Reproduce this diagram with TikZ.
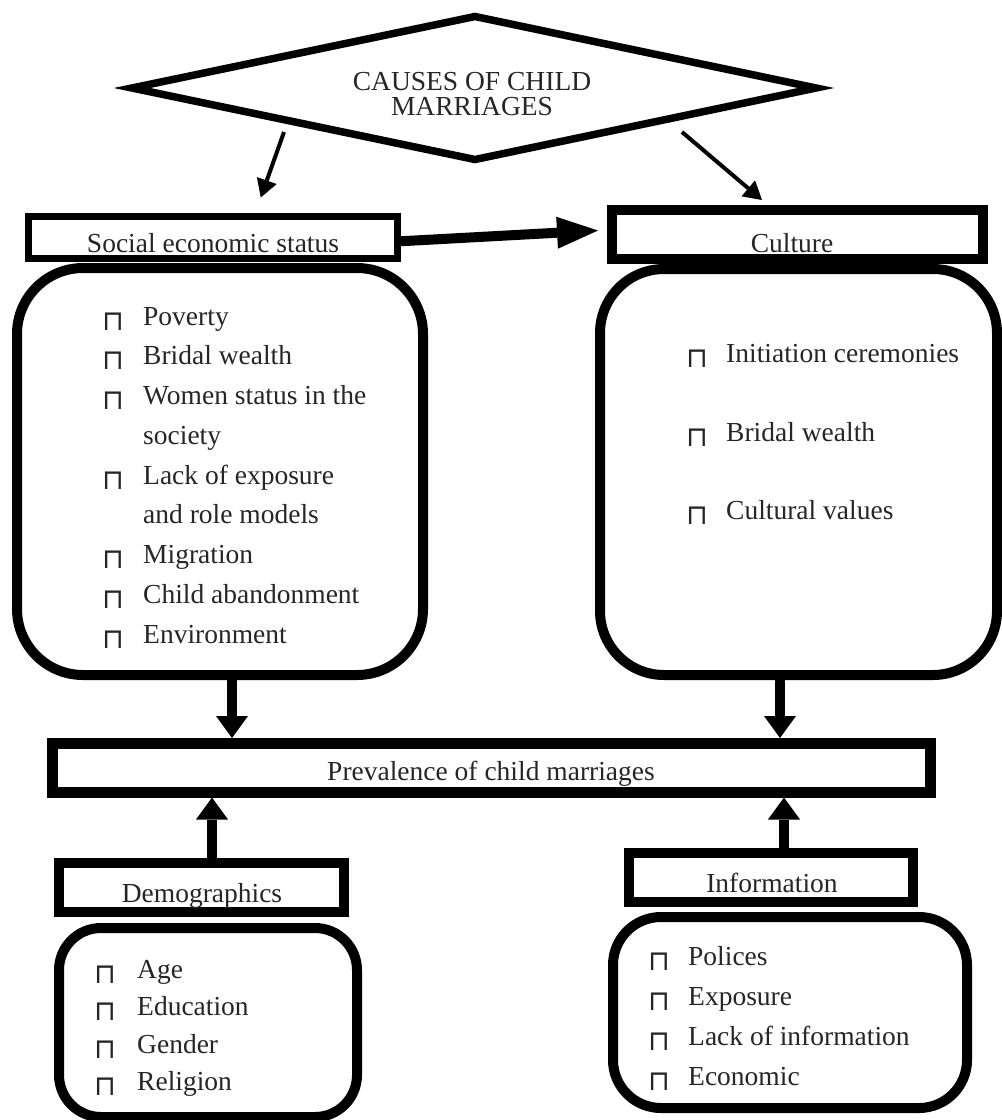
\documentclass[tikz,border=0pt]{standalone}
\usepackage{fontspec}
\setmainfont{Liberation Serif}
\newfontfamily\bulfont{DejaVu Sans}
\usetikzlibrary{arrows.meta,calc}
\newcommand\bitem[5]{%
  \node[bul] (#1b) at (#2,#4+5) {⊓};
  \node[itm] (#1) at (#3,#4) {#5};}
\begin{document}
\begin{tikzpicture}[x=1pt,y=-1pt,
  hdr/.style={draw=black,rectangle,inner sep=0pt,line width=10pt,fill=white},
  rbox/.style={draw=black,rectangle,inner sep=0pt,line width=10pt,fill=white},
  lbl/.style={anchor=base,inner sep=0pt,font=\fontsize{27.5}{30}\selectfont,text=black!85},
  itm/.style={anchor=base west,inner sep=0pt,font=\fontsize{27.5}{30}\selectfont,text=black!85},
  bul/.style={anchor=base west,inner sep=0pt,font=\bulfont\fontsize{28}{30}\selectfont,text=black!85},
  thinar/.style={line width=4pt,-{Triangle[width=21pt,length=18pt,line width=0pt]}},
  bigar/.style={line width=10pt,-{Triangle[width=32pt,length=22pt,line width=0pt]}},
  horar/.style={line width=10pt,-{Triangle[width=32pt,length=41pt,line width=0pt]}}]
\useasboundingbox (0,0) rectangle (1002,1120);

% diamond
\coordinate (dL) at (132,88);
\coordinate (dT) at (475,16.5);
\coordinate (dR) at (816,88);
\coordinate (dB) at (475,159.5);
\draw[line width=7.5pt,line join=miter] (dL) -- (dT) -- (dR) -- (dB) -- cycle;
\node[lbl] (title1) at (472,90) {CAUSES OF CHILD};
\node[lbl] (title2) at (472,115) {MARRIAGES};

% header boxes
\node[hdr,line width=7pt,minimum width=369.5pt,minimum height=42.5pt] (sesh) at (212.75,237.25) {};
\node[lbl] (sest) at (213,252) {Social economic status};
\node[hdr,minimum width=371pt,minimum height=49pt] (culth) at (797.5,234.5) {};
\node[lbl] (cultt) at (792,252) {Culture};

% rounded boxes
\node[rbox,rounded corners=66pt,minimum width=406pt,minimum height=407pt] (sesr) at (220,471.5) {};
\node[rbox,rounded corners=64pt,minimum width=397pt,minimum height=406pt] (cultr) at (798.5,472) {};

% social items
\bitem{s1}{102}{143}{325}{Poverty}
\bitem{s2}{102}{143}{364.75}{Bridal wealth}
\bitem{s3}{102}{143}{404.5}{Women status in the}
\node[itm] (s3b2) at (143,444.25) {society};
\bitem{s4}{102}{143}{484}{Lack of exposure}
\node[itm] (s4b2) at (143,523.75) {and role models};
\bitem{s5}{102}{143}{563.5}{Migration}
\bitem{s6}{102}{143}{603.25}{Child abandonment}
\bitem{s7}{102}{143}{643}{Environment}

% culture items
\bitem{c1}{686}{726}{362}{Initiation ceremonies}
\bitem{c2}{686}{726}{441}{Bridal wealth}
\bitem{c3}{686}{726}{519}{Cultural values}

% prevalence
\node[hdr,line width=11pt,minimum width=877.5pt,minimum height=48.5pt] (prev) at (491.25,767.75) {};
\node[lbl] (prevt) at (491,780) {Prevalence of child marriages};

% demographics / information
\node[hdr,minimum width=285pt,minimum height=49pt] (demoh) at (201.5,887.5) {};
\node[lbl] (demot) at (202,902) {Demographics};
\node[hdr,minimum width=284pt,minimum height=49pt] (infoh) at (771,877.5) {};
\node[lbl] (infot) at (772,892) {Information};

\node[rbox,rounded corners=42pt,minimum width=298pt,minimum height=189pt] (demor) at (208,1022.5) {};
\node[rbox,rounded corners=48pt,minimum width=354pt,minimum height=191pt] (infor) at (790,1012.5) {};

\bitem{d1}{94}{137}{978}{Age}
\bitem{d2}{94}{137}{1015}{Education}
\bitem{d3}{94}{137}{1053}{Gender}
\bitem{d4}{94}{137}{1090}{Religion}

\bitem{i1}{648}{688}{965}{Polices}
\bitem{i2}{648}{688}{1005}{Exposure}
\bitem{i3}{648}{688}{1045}{Lack of information}
\bitem{i4}{648}{688}{1085}{Economic}

% connectors
\coordinate (a1s) at (284,132);
\coordinate (a1e) at ($(sesh.north)+(48,-15)$);
\coordinate (a2s) at (682,132);
\coordinate (a2e) at ($(culth.north)+(-35.5,-5)$);
\draw[thinar] (a1s) -- (a1e);
\draw[thinar] (a2s) -- (a2e);

\draw[horar] ($(sesh.east)+(0,4)$) -- ($(culth.west)+(-9,-4)$);

\coordinate (xa) at ($(sesr.south)+(12,0)$);
\coordinate (xb) at ($(cultr.south)+(-18.5,0)$);
\coordinate (xc) at ($(demoh.north)+(10.5,0)$);
\coordinate (xd) at ($(infoh.north)+(13,0)$);
\draw[bigar] (xa) -- (xa |- prev.north);
\draw[bigar] (xb) -- (xb |- prev.north);
\draw[bigar] (xc) -- (xc |- prev.south);
\draw[bigar] (xd) -- (xd |- prev.south);
\end{tikzpicture}
\end{document}
